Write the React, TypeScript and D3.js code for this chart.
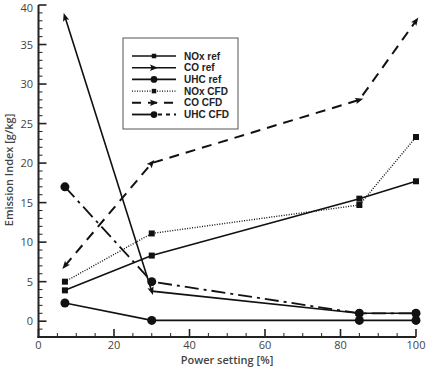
import React, { useRef, useEffect } from 'react';
import * as d3 from 'd3';

// power settings [%]
const power = [7, 30, 85, 100];

const noxRef = [3.9, 8.3, 15.5, 17.7];
const coRef = [38.5, 3.8, 1.0, 1.0];
const uhcRef = [2.3, 0.1, 0.1, 0.1];
const noxCfd = [5.0, 11.1, 14.7, 23.3];
const coCfd = [7.0, 20.0, 28.0, 38.0];
const uhcCfd = [17.0, 5.0, 1.0, 1.0];

const xTicks = [0, 20, 40, 60, 80, 100];
const yTicks = [0, 5, 10, 15, 20, 25, 30, 35, 40];

const series = [
  { name: 'NOx ref', values: noxRef, marker: 'square', dash: null, width: 1.6 },
  { name: 'CO ref', values: coRef, marker: 'arrow', dash: null, width: 1.6 },
  { name: 'UHC ref', values: uhcRef, marker: 'circle', dash: null, width: 1.6 },
  { name: 'NOx CFD', values: noxCfd, marker: 'square', dash: '1,1.5', width: 1.4 },
  { name: 'CO CFD', values: coCfd, marker: 'arrow', dash: '10,7', width: 2 },
  { name: 'UHC CFD', values: uhcCfd, marker: 'circle', dash: '14,5,3,5', width: 1.8 },
];

const W = 427;
const H = 370;

const drawMarker = (g, type, x, y, angle) => {
  if (type === 'square') {
    g.append('rect').attr('x', x - 3).attr('y', y - 3).attr('width', 6).attr('height', 6).attr('fill', '#111');
  } else if (type === 'circle') {
    g.append('circle').attr('cx', x).attr('cy', y).attr('r', 4.5).attr('fill', '#111');
  } else {
    g.append('path')
      .attr('d', 'M4,0 L-4,-3.2 L-2.5,0 L-4,3.2 Z')
      .attr('transform', `translate(${x},${y}) rotate(${angle})`)
      .attr('fill', '#111');
  }
};

export default function App() {
  const svgRef = useRef(null);

  useEffect(() => {
    const svg = d3.select(svgRef.current);
    svg.selectAll('*').remove();

    const x = d3.scaleLinear().domain([0, 100]).range([38.5, 416]);
    const y = d3.scaleLinear().domain([-2, 40]).range([337, 5]);

    const axisColor = '#222';
    const textColor = '#444';
    const font = 'Open Sans';

    // axes with major and minor ticks
    const ax = svg.append('g');
    d3.range(0, 101, 5).forEach(v => {
      const major = v % 20 === 0;
      ax.append('line')
        .attr('x1', x(v)).attr('x2', x(v))
        .attr('y1', y(-2)).attr('y2', y(-2) - (major ? 8 : 4))
        .attr('stroke', axisColor).attr('stroke-width', major ? 1.6 : 1);
    });
    d3.range(-2, 41, 1).forEach(v => {
      const major = v % 5 === 0;
      ax.append('line')
        .attr('x1', x(0)).attr('x2', x(0) + (major ? 8 : 4))
        .attr('y1', y(v)).attr('y2', y(v))
        .attr('stroke', axisColor).attr('stroke-width', major ? 1.6 : 1);
    });
    ax.append('line').attr('x1', x(0)).attr('x2', x(0)).attr('y1', y(-2) + 1).attr('y2', y(40))
      .attr('stroke', axisColor).attr('stroke-width', 2);
    ax.append('line').attr('x1', x(0) - 1).attr('x2', x(100)).attr('y1', y(-2)).attr('y2', y(-2))
      .attr('stroke', axisColor).attr('stroke-width', 2);

    xTicks.forEach(v => {
      ax.append('text').attr('x', x(v)).attr('y', 349)
        .attr('text-anchor', 'middle').attr('font-family', font).attr('font-size', 11)
        .attr('fill', textColor).text(v);
    });
    yTicks.forEach(v => {
      ax.append('text').attr('x', 33).attr('y', Math.max(y(v) + 4, 12))
        .attr('text-anchor', 'end').attr('font-family', font).attr('font-size', 11)
        .attr('fill', textColor).text(v);
    });

    ax.append('text').attr('x', 227).attr('y', 364).attr('text-anchor', 'middle')
      .attr('font-family', font).attr('font-size', 11).attr('font-weight', 600)
      .attr('fill', textColor).text('Power setting [%]');
    ax.append('text').attr('transform', 'translate(12.5,170) rotate(-90)').attr('text-anchor', 'middle')
      .attr('font-family', font).attr('font-size', 11).attr('font-weight', 600)
      .attr('fill', textColor).text('Emission Index [g/kg]');

    const line = d3.line().x(d => x(d[0])).y(d => y(d[1]));
    const plot = svg.append('g');
    series.forEach(s => {
      const pts = power.map((p, i) => [p, s.values[i]]);
      plot.append('path').attr('d', line(pts)).attr('fill', 'none')
        .attr('stroke', '#111').attr('stroke-width', s.width)
        .attr('stroke-dasharray', s.dash);
      pts.forEach((p, i) => {
        const a = i === 0 ? pts[1] : pts[i - 1];
        const b = i === 0 ? pts[0] : pts[i];
        const ang = Math.atan2(y(b[1]) - y(a[1]), x(b[0]) - x(a[0])) * 180 / Math.PI;
        drawMarker(plot, s.marker, x(p[0]), y(p[1]), ang);
      });
    });

    // legend
    const lg = svg.append('g');
    lg.append('rect').attr('x', 123).attr('y', 38).attr('width', 115).attr('height', 91)
      .attr('fill', 'white').attr('stroke', '#555').attr('stroke-width', 1);
    series.forEach((s, i) => {
      const ly = 56 + i * 11.7;
      if (s.name === 'UHC CFD') {
        lg.append('line').attr('x1', 132).attr('x2', 154).attr('y1', ly).attr('y2', ly)
          .attr('stroke', '#111').attr('stroke-width', s.width);
        lg.append('line').attr('x1', 158).attr('x2', 176).attr('y1', ly).attr('y2', ly)
          .attr('stroke', '#111').attr('stroke-width', s.width).attr('stroke-dasharray', '4,4');
      } else {
        lg.append('line').attr('x1', 132).attr('x2', 176).attr('y1', ly).attr('y2', ly)
          .attr('stroke', '#111').attr('stroke-width', s.width)
          .attr('stroke-dasharray', s.name === 'CO CFD' ? '9,7' : s.dash);
      }
      const ms = lg.append('g');
      drawMarker(ms, s.marker, 154, ly, 0);
      if (s.marker !== 'arrow') ms.attr('transform', `translate(154,${ly}) scale(0.75) translate(-154,${-ly})`);
      lg.append('text').attr('x', 184).attr('y', ly + 3.5)
        .attr('font-family', 'Liberation Sans').attr('font-size', 10).attr('font-weight', 'bold')
        .attr('fill', '#222').text(s.name);
    });
  }, []);

  return (
    <svg ref={svgRef} width={W} height={H}
      style={{ position: 'absolute', left: 0, top: 0, background: 'white' }} />
  );
}
